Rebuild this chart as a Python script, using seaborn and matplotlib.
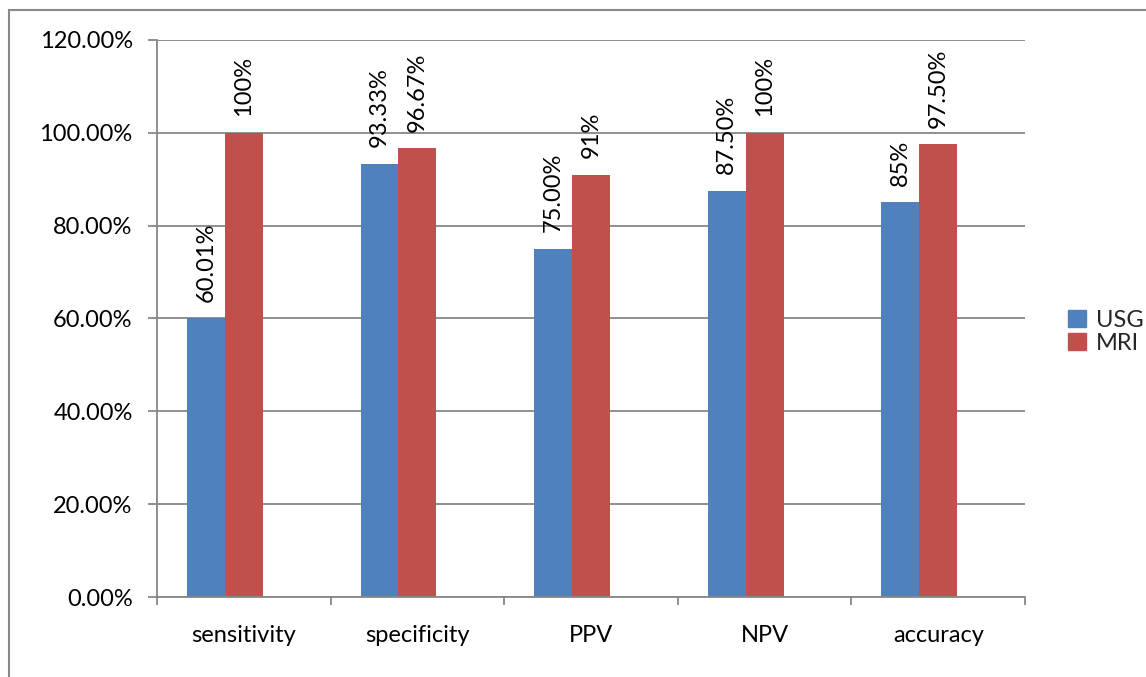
import matplotlib
matplotlib.use("Agg")
import matplotlib.pyplot as plt
import matplotlib.patches as mpatches
from matplotlib.ticker import FuncFormatter, FixedLocator
import seaborn as sns
import pandas as pd
import numpy as np

categories = ["sensitivity", "specificity", "PPV", "NPV", "accuracy"]
usg_values = [60.01, 93.33, 75.00, 87.50, 85.00]
mri_values = [100.00, 96.67, 91.00, 100.00, 97.50]
usg_labels = ["60.01%", "93.33%", "75.00%", "87.50%", "85%"]
mri_labels = ["100%", "96.67%", "91%", "100%", "97.50%"]
series_names = ["USG", "MRI"]
colors = {"USG": "#4F81BD", "MRI": "#C0504D", " ": "#FFFFFF"}

df = pd.DataFrame({
    "category": categories * 2,
    "series": ["USG"] * 5 + ["MRI"] * 5,
    "value": [v / 100 for v in usg_values + mri_values],
    "label": usg_labels + mri_labels,
})

sns.set_theme(style="white")
FONT = ["Lato", "DejaVu Sans"]
plt.rcParams["font.family"] = FONT
FS = 17

fig = plt.figure(figsize=(11.46, 6.77), dpi=100)
ax = fig.add_axes([157 / 1146, 1 - 597 / 677, (1025 - 157) / 1146, (597 - 40) / 677])

sns.barplot(data=df, x="category", y="value", hue="series",
            hue_order=["USG", "MRI", " "], order=categories,
            palette=colors, width=0.655, gap=0, dodge=True,
            linewidth=0, saturation=1, errorbar=None, legend=False, ax=ax)

# value labels
for container, labs in zip(ax.containers, [usg_labels, mri_labels]):
    for bar, lab in zip(container, labs):
        ax.annotate(lab, (bar.get_x() + bar.get_width() / 2, bar.get_height()),
                    xytext=(0, 12), textcoords="offset points",
                    rotation=90, ha="center", va="bottom", fontsize=FS,
                    color="#000000")

grey = "#878787"
ax.set_ylim(0, 1.2)
ax.set_xlim(-0.5, 4.5)
ax.set_yticks(np.arange(0, 1.21, 0.2))
ax.yaxis.set_major_formatter(FuncFormatter(lambda v, p: f"{v * 100:.2f}%"))
ax.yaxis.grid(True, color=grey, linewidth=1.3)
ax.set_axisbelow(True)
for s in ["top", "right"]:
    ax.spines[s].set_visible(False)
for s in ["left", "bottom"]:
    ax.spines[s].set_color(grey)
    ax.spines[s].set_linewidth(1.3)
ax.tick_params(axis="y", which="major", left=True, length=6.5, width=1.3,
               color=grey, pad=11, labelsize=FS, labelcolor="#000000")
ax.tick_params(axis="x", which="major", bottom=False, length=0, pad=20,
               labelsize=FS, labelcolor="#000000")
ax.xaxis.set_minor_locator(FixedLocator(np.arange(-0.5, 4.51, 1)))
ax.tick_params(axis="x", which="minor", bottom=True, length=6, width=1.3,
               color=grey)
ax.set_xlabel("")
ax.set_ylabel("")

handles = [mpatches.Patch(color=colors[n], label=n) for n in series_names]
leg = fig.legend(handles=handles, loc="center left",
                 bbox_to_anchor=(1068 / 1146, 1 - 332 / 677),
                 frameon=False, fontsize=FS, handlelength=0.75, handleheight=0.75,
                 handletextpad=0.45, labelspacing=0.08, borderpad=0, borderaxespad=0)

# outer chart border
fig.patches.append(mpatches.Rectangle((9 / 1146, -0.1), 1.2, 1 - 10 / 677 + 0.1,
                                      transform=fig.transFigure, fill=False,
                                      edgecolor="#898989", linewidth=1.5))

fig.savefig("out.png", dpi=100)
